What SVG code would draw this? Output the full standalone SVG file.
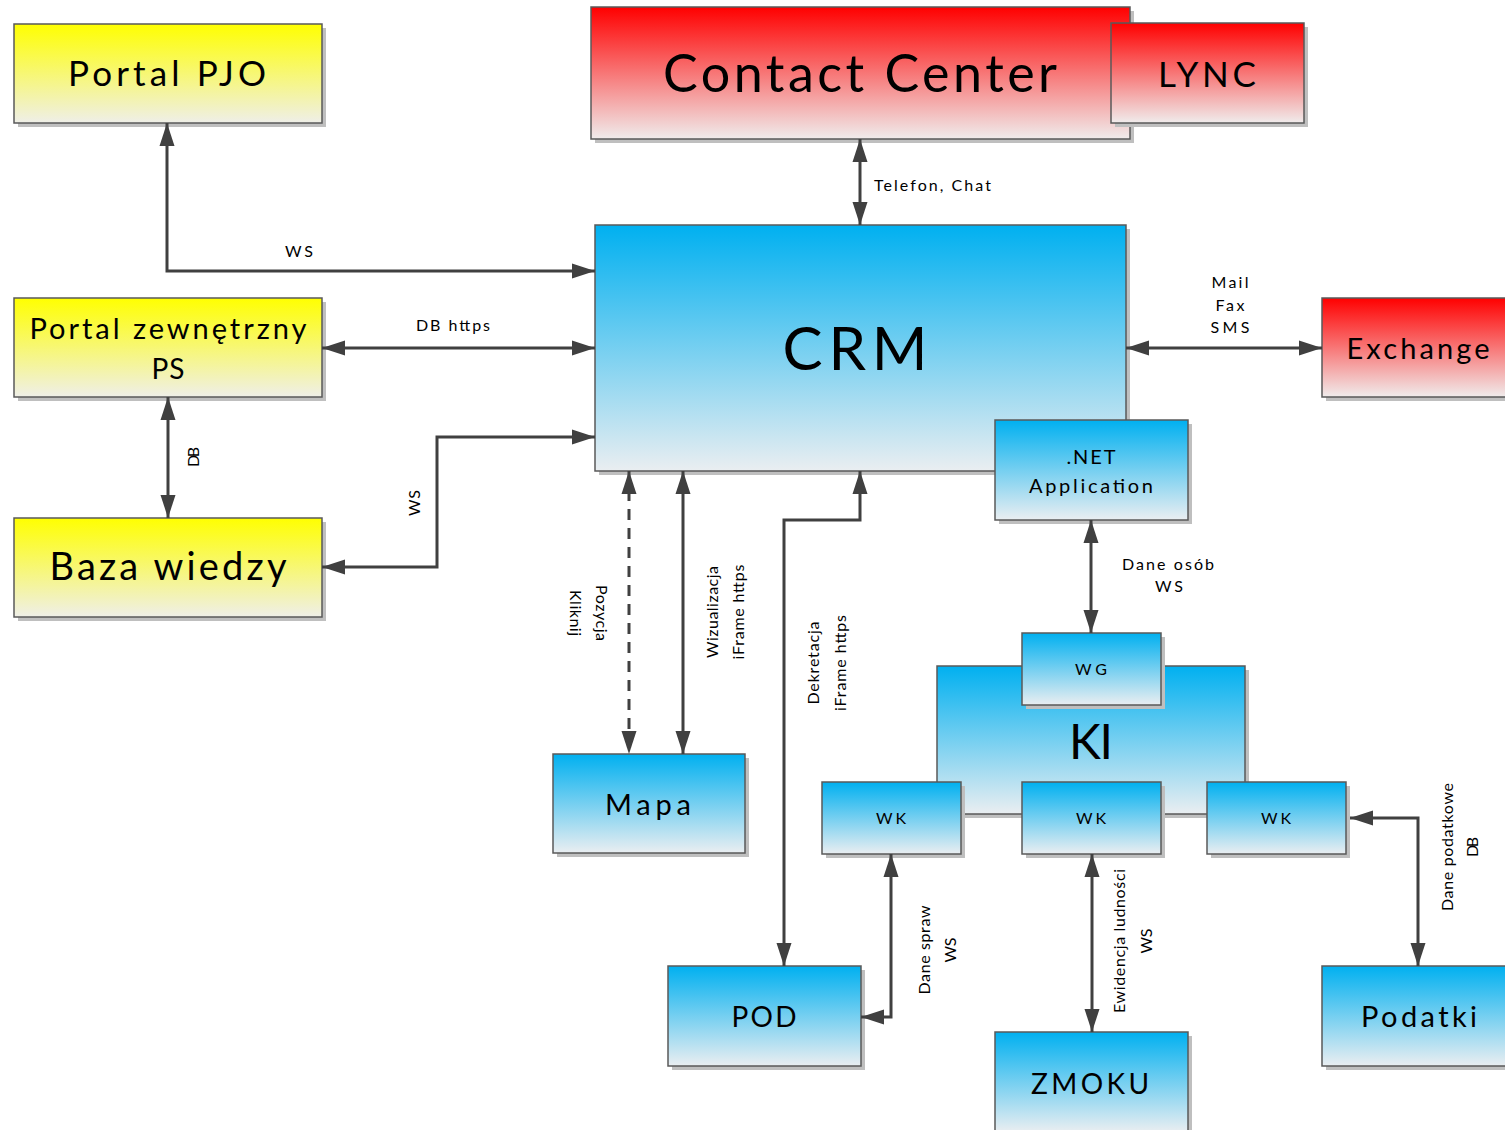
<svg xmlns="http://www.w3.org/2000/svg" width="1505" height="1130" viewBox="0 0 1505 1130">
<style>
text{font-family:Lato,"Open Sans","Liberation Sans",sans-serif;fill:#000}
.box{stroke:#595959;stroke-width:1.5}
.sh{fill:#bfbfbf}
.y{fill:url(#gy)}.r{fill:url(#gr)}.b{fill:url(#gb)}
.c{fill:none;stroke:#404040;stroke-width:3;marker-start:url(#ah);marker-end:url(#ah)}
.d{stroke-dasharray:11 8}
.m{text-anchor:middle}
.s{font-size:16px}
</style>
<defs>
<linearGradient id="gy" x1="0" y1="0" x2="0" y2="1"><stop offset="0" stop-color="#ffff00"/><stop offset="1" stop-color="#efefe8"/></linearGradient>
<linearGradient id="gr" x1="0" y1="0" x2="0" y2="1"><stop offset="0" stop-color="#ff0000"/><stop offset="1" stop-color="#f0ecec"/></linearGradient>
<linearGradient id="gb" x1="0" y1="0" x2="0" y2="1"><stop offset="0" stop-color="#00b0f0"/><stop offset="1" stop-color="#eaeef1"/></linearGradient>
<marker id="ah" markerUnits="userSpaceOnUse" markerWidth="24" markerHeight="16" viewBox="0 0 24 16" refX="23" refY="8" orient="auto-start-reverse"><path d="M0,0.5 L23,8 L0,15.5 z" fill="#404040"/></marker>
</defs>

<g id="portal-pjo">
<rect class="sh" x="18" y="28" width="308" height="99"/>
<rect class="box y" x="14" y="24" width="308" height="99"/>
<text class="m" x="167" y="86" font-size="35" textLength="198" lengthAdjust="spacing">Portal PJO</text>
</g>
<g id="portal-ps">
<rect class="sh" x="18" y="302" width="308" height="99"/>
<rect class="box y" x="14" y="298" width="308" height="99"/>
<text class="m" x="168" y="339" font-size="29" textLength="277" lengthAdjust="spacing">Portal zewnętrzny</text>
<text class="m" x="168" y="379" font-size="28" textLength="33" lengthAdjust="spacing">PS</text>
</g>
<g id="baza-wiedzy">
<rect class="sh" x="18" y="522" width="308" height="99"/>
<rect class="box y" x="14" y="518" width="308" height="99"/>
<text class="m" x="168" y="580" font-size="38" textLength="237" lengthAdjust="spacing">Baza wiedzy</text>
</g>
<g id="contact-center">
<rect class="sh" x="595" y="11" width="539" height="132"/>
<rect class="box r" x="591" y="7" width="539" height="132"/>
<text class="m" x="860" y="92" font-size="52" textLength="394" lengthAdjust="spacing">Contact Center</text>
</g>
<g id="lync">
<rect class="sh" x="1115" y="27" width="193" height="100"/>
<rect class="box r" x="1111" y="23" width="193" height="100"/>
<text class="m" x="1207" y="87" font-size="35" textLength="98" lengthAdjust="spacing">LYNC</text>
</g>
<g id="crm">
<rect class="sh" x="599" y="229" width="531" height="246"/>
<rect class="box b" x="595" y="225" width="531" height="246"/>
<text class="m" x="855" y="370" font-size="60" textLength="145" lengthAdjust="spacing">CRM</text>
</g>
<g id="net-app">
<rect class="sh" x="999" y="424" width="193" height="100"/>
<rect class="box b" x="995" y="420" width="193" height="100"/>
<text class="m" x="1091" y="464" font-size="20" textLength="49" lengthAdjust="spacing">.NET</text>
<text class="m" x="1091" y="493" font-size="20" textLength="124" lengthAdjust="spacing">Application</text>
</g>
<g id="exchange">
<rect class="sh" x="1326" y="302" width="193" height="99"/>
<rect class="box r" x="1322" y="298" width="193" height="99"/>
<text class="m" x="1418" y="359" font-size="29" textLength="143" lengthAdjust="spacing">Exchange</text>
</g>
<g id="mapa">
<rect class="sh" x="557" y="758" width="192" height="99"/>
<rect class="box b" x="553" y="754" width="192" height="99"/>
<text class="m" x="648" y="815" font-size="29" textLength="86" lengthAdjust="spacing">Mapa</text>
</g>
<g id="ki">
<rect class="sh" x="941" y="670" width="308" height="148"/>
<rect class="box b" x="937" y="666" width="308" height="148"/>
<text class="m" x="1091" y="759" font-size="48" textLength="44" lengthAdjust="spacing">KI</text>
</g>
<g id="wg">
<rect class="sh" x="1026" y="637" width="139" height="72"/>
<rect class="box b" x="1022" y="633" width="139" height="72"/>
<text class="m" x="1091" y="675" font-size="16" textLength="32" lengthAdjust="spacing">WG</text>
</g>
<g id="wk1">
<rect class="sh" x="826" y="786" width="139" height="72"/>
<rect class="box b" x="822" y="782" width="139" height="72"/>
<text class="m" x="891" y="824" font-size="16" textLength="30" lengthAdjust="spacing">WK</text>
</g>
<g id="wk2">
<rect class="sh" x="1026" y="786" width="139" height="72"/>
<rect class="box b" x="1022" y="782" width="139" height="72"/>
<text class="m" x="1091" y="824" font-size="16" textLength="30" lengthAdjust="spacing">WK</text>
</g>
<g id="wk3">
<rect class="sh" x="1211" y="786" width="139" height="72"/>
<rect class="box b" x="1207" y="782" width="139" height="72"/>
<text class="m" x="1276" y="824" font-size="16" textLength="30" lengthAdjust="spacing">WK</text>
</g>
<g id="pod">
<rect class="sh" x="672" y="970" width="193" height="100"/>
<rect class="box b" x="668" y="966" width="193" height="100"/>
<text class="m" x="764" y="1027" font-size="28" textLength="65" lengthAdjust="spacing">POD</text>
</g>
<g id="zmoku">
<rect class="sh" x="999" y="1036" width="193" height="100"/>
<rect class="box b" x="995" y="1032" width="193" height="100"/>
<text class="m" x="1090" y="1094" font-size="28" textLength="118" lengthAdjust="spacing">ZMOKU</text>
</g>
<g id="podatki">
<rect class="sh" x="1326" y="970" width="193" height="100"/>
<rect class="box b" x="1322" y="966" width="193" height="100"/>
<text class="m" x="1419" y="1027" font-size="29" textLength="116" lengthAdjust="spacing">Podatki</text>
</g>

<g id="connectors">
<path class="c" d="M595,271 H167 V123"/>
<path class="c" d="M322,348 H595"/>
<path class="c" d="M168,397 V518"/>
<path class="c" d="M322,567 H437 V437 H595"/>
<path class="c" d="M860,139 V225"/>
<path class="c" d="M1126,348 H1322"/>
<path class="c d" d="M629,471 V754"/>
<path class="c" d="M683,471 V754"/>
<path class="c" d="M860,471 V520 H784 V966"/>
<path class="c" d="M1091,520 V633"/>
<path class="c" d="M891,854 V1017 H861"/>
<path class="c" d="M1092,854 V1032"/>
<path class="c" d="M1350,818 H1418 V966"/>
</g>

<g id="labels">
<text class="m s" x="299" y="257" textLength="28" lengthAdjust="spacing">WS</text>
<text class="m s" x="453" y="331" textLength="74" lengthAdjust="spacing">DB https</text>
<text class="m s" transform="translate(199,457) rotate(-90)" textLength="20" lengthAdjust="spacing">DB</text>
<text class="m s" transform="translate(420,503) rotate(-90)" textLength="26" lengthAdjust="spacing">WS</text>
<text class="s" x="874" y="191" textLength="117" lengthAdjust="spacing">Telefon, Chat</text>
<text class="m s" x="1230" y="288" textLength="37" lengthAdjust="spacing">Mail</text>
<text class="m s" x="1230" y="311" textLength="29" lengthAdjust="spacing">Fax</text>
<text class="m s" x="1230" y="333" textLength="39" lengthAdjust="spacing">SMS</text>
<text class="m s" transform="translate(596,613) rotate(90)" textLength="56" lengthAdjust="spacing">Pozycja</text>
<text class="m s" transform="translate(570,613) rotate(90)" textLength="46" lengthAdjust="spacing">Kliknij</text>
<text class="m s" transform="translate(718,612) rotate(-90)" textLength="92" lengthAdjust="spacing">Wizualizacja</text>
<text class="m s" transform="translate(744,612) rotate(-90)" textLength="95" lengthAdjust="spacing">iFrame https</text>
<text class="m s" transform="translate(819,663) rotate(-90)" textLength="83" lengthAdjust="spacing">Dekretacja</text>
<text class="m s" transform="translate(846,663) rotate(-90)" textLength="96" lengthAdjust="spacing">iFrame https</text>
<text class="m s" x="1168" y="570" textLength="92" lengthAdjust="spacing">Dane osób</text>
<text class="m s" x="1169" y="592" textLength="28" lengthAdjust="spacing">WS</text>
<text class="m s" transform="translate(930,950) rotate(-90)" textLength="89" lengthAdjust="spacing">Dane spraw</text>
<text class="m s" transform="translate(956,950) rotate(-90)" textLength="25" lengthAdjust="spacing">WS</text>
<text class="m s" transform="translate(1125,941) rotate(-90)" textLength="144" lengthAdjust="spacing">Ewidencja ludności</text>
<text class="m s" transform="translate(1152,941) rotate(-90)" textLength="25" lengthAdjust="spacing">WS</text>
<text class="m s" transform="translate(1453,847) rotate(-90)" textLength="128" lengthAdjust="spacing">Dane podatkowe</text>
<text class="m s" transform="translate(1478,847) rotate(-90)" textLength="20" lengthAdjust="spacing">DB</text>
</g>
</svg>
